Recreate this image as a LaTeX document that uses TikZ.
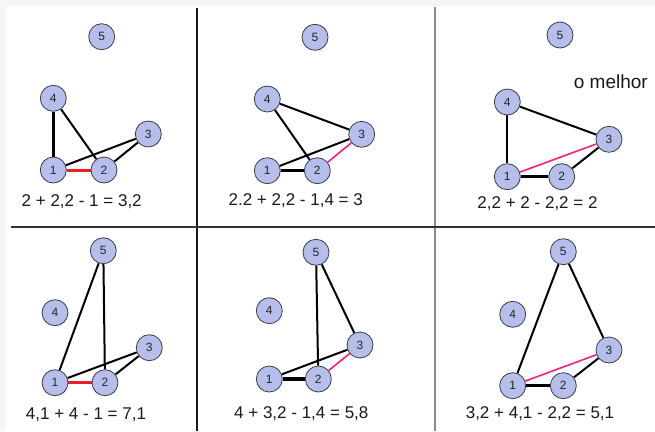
\documentclass[tikz,border=0pt]{standalone}
\usepackage{fontspec}
\setmainfont{Liberation Sans}
\usetikzlibrary{backgrounds}
\definecolor{nodefill}{RGB}{182,190,236}
\definecolor{nodeline}{RGB}{60,60,70}
\definecolor{redge}{RGB}{232,30,40}
\definecolor{pedge}{RGB}{255,30,120}
\definecolor{bggray}{RGB}{246,246,246}
\tikzset{
  vtx/.style={circle,draw=nodeline,line width=0.8pt,fill=nodefill,minimum size=26pt,inner sep=0pt,font=\fontsize{12}{12}\selectfont,text=black!85},
  ed/.style={line width=2pt,black},
  edthick/.style={line width=3.2pt,black},
  edred/.style={line width=3pt,redge},
  edpink/.style={line width=1.6pt,pedge},
  formula/.style={font=\fontsize{17}{17}\selectfont,text=black!90,inner sep=0pt},
}
\begin{document}
\begin{tikzpicture}[x=1pt,y=-1pt]
\useasboundingbox (0,0) rectangle (655,431);
\begin{pgfonlayer}{background}
\fill[bggray] (0,0) rectangle (655,431);
\fill[white] (6,6) rectangle (655,431);
\draw[line width=1.5pt,black!90] (197,8) -- (197,431);
\draw[line width=2pt,black!45] (435,7) -- (435,431);
\draw[line width=1.5pt,black!80] (11,227) -- (655,227);
\end{pgfonlayer}

% panel 1
\node[vtx] (a5) at (101.7,36.7) {5};
\node[vtx] (a4) at (53.3,98.3) {4};
\node[vtx] (a3) at (148.3,134) {3};
\node[vtx] (a1) at (53.3,170) {1};
\node[vtx] (a2) at (104,170) {2};
\begin{pgfonlayer}{background}
\draw[edthick] (a4) -- (a1);
\draw[ed] (a4) -- (a2);
\draw[ed] (a1) -- (a3);
\draw[ed] (a3) -- (a2);
\draw[edred] (a1) -- (a2);
\end{pgfonlayer}
\node[formula] (fa) at (81.7,201.7) {2 + 2,2 - 1 = 3,2};

% panel 2
\node[vtx] (b5) at (315,37.3) {5};
\node[vtx] (b4) at (267.3,99) {4};
\node[vtx] (b3) at (361.7,134.3) {3};
\node[vtx] (b1) at (267.3,170.7) {1};
\node[vtx] (b2) at (317.3,170.7) {2};
\begin{pgfonlayer}{background}
\draw[ed] (b4) -- (b3);
\draw[ed] (b4) -- (b2);
\draw[ed] (b1) -- (b3);
\draw[edthick] (b1) -- (b2);
\draw[edpink] (b2) -- (b3);
\end{pgfonlayer}
\node[formula] (fb) at (295.7,201) {2.2 + 2,2 - 1,4 = 3};

% panel 3
\node[vtx] (c5) at (560,35) {5};
\node[formula,font=\fontsize{19}{19}\selectfont] (best) at (610.8,81.7) {o melhor};
\node[vtx] (c4) at (507.3,102) {4};
\node[vtx] (c3) at (609,139.3) {3};
\node[vtx] (c1) at (507.3,176.7) {1};
\node[vtx] (c2) at (561.7,176.7) {2};
\begin{pgfonlayer}{background}
\draw[ed] (c4) -- (c1);
\draw[ed] (c4) -- (c3);
\draw[edpink] (c1) -- (c3);
\draw[edthick] (c1) -- (c2);
\draw[ed] (c2) -- (c3);
\end{pgfonlayer}
\node[formula] (fc) at (537.5,203.3) {2,2 + 2 - 2,2 = 2};

% panel 4
\node[vtx] (d5) at (103.3,250.7) {5};
\node[vtx] (d4) at (55,312.7) {4};
\node[vtx] (d3) at (149.3,347.7) {3};
\node[vtx] (d1) at (55,382.7) {1};
\node[vtx] (d2) at (105,382.7) {2};
\begin{pgfonlayer}{background}
\draw[ed] (d5) -- (d1);
\draw[ed] (d5) -- (d2);
\draw[ed] (d1) -- (d3);
\draw[ed] (d2) -- (d3);
\draw[edred] (d1) -- (d2);
\end{pgfonlayer}
\node[formula] (fd) at (86,415) {4,1 + 4 - 1 = 7,1};

% panel 5
\node[vtx] (e5) at (316,252.3) {5};
\node[vtx] (e4) at (269.3,310.7) {4};
\node[vtx] (e3) at (360,345) {3};
\node[vtx] (e1) at (269.3,379) {1};
\node[vtx] (e2) at (318.3,379) {2};
\begin{pgfonlayer}{background}
\draw[ed] (e5) -- (e2);
\draw[ed] (e5) -- (e3);
\draw[ed] (e1) -- (e3);
\draw[edthick] (e1) -- (e2);
\draw[edpink] (e2) -- (e3);
\end{pgfonlayer}
\node[formula] (fe) at (301.3,413.3) {4 + 3,2 - 1,4 = 5,8};

% panel 6
\node[vtx] (f5) at (563.3,251.7) {5};
\node[vtx] (f4) at (512.7,314.3) {4};
\node[vtx] (f3) at (609,350) {3};
\node[vtx] (f1) at (512.7,385.7) {1};
\node[vtx] (f2) at (563.3,385.7) {2};
\begin{pgfonlayer}{background}
\draw[ed] (f5) -- (f1);
\draw[ed] (f5) -- (f3);
\draw[edpink] (f1) -- (f3);
\draw[edthick] (f1) -- (f2);
\draw[ed] (f2) -- (f3);
\end{pgfonlayer}
\node[formula] (ff) at (540,413.3) {3,2 + 4,1 - 2,2 = 5,1};
\end{tikzpicture}
\end{document}
